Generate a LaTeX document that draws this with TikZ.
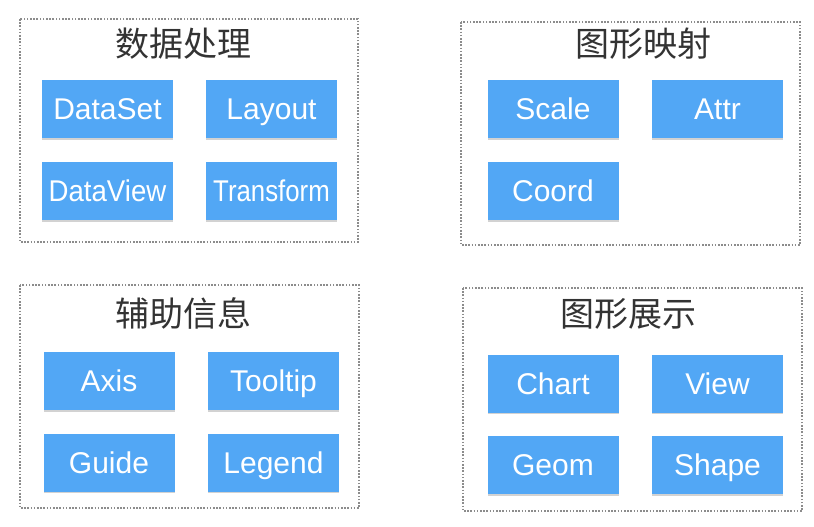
\documentclass[tikz,border=0pt]{standalone}
\usepackage{graphicx}
\usepackage{fontspec}
\setmainfont{Liberation Sans}
\newfontfamily\cjk{Noto Sans CJK SC}
\usetikzlibrary{shadows}
\definecolor{btn}{RGB}{82,167,245}
\definecolor{frame}{RGB}{140,140,140}
\begin{document}
\begin{tikzpicture}[x=1pt,y=-1pt,
  groupbox/.style={draw=frame, line width=1.6pt, dash pattern=on 1.6pt off 1.6pt},
  btnbox/.style={fill=btn, draw=none, text=white, minimum width=131pt, minimum height=58pt,
    inner sep=0pt, font=\fontsize{30}{32}\selectfont, text height=21.5pt, text depth=0pt,
    drop shadow={shadow xshift=0pt, shadow yshift=-1.5pt, opacity=0.25, fill=black!70}},
  grouptitle/.style={font=\cjk\fontsize{34}{36}\selectfont, text=black!80, inner sep=0pt}]
\useasboundingbox (0,0) rectangle (814,527);
% group 1
\draw[groupbox] (20,19) rectangle (358,242);
\node[grouptitle] (t1) at (183,44) {数据处理};
\node[btnbox] (dataset) at (107.5,109) {DataSet};
\node[btnbox] (layout) at (271.5,109) {Layout};
\node[btnbox] (dataview) at (107.5,191) {\scalebox{0.92}[1]{DataView}};
\node[btnbox] (transform) at (271.5,191) {\scalebox{0.86}[1]{Transform}};
% group 2
\draw[groupbox] (461,22) rectangle (800,245);
\node[grouptitle] (t2) at (643,44) {图形映射};
\node[btnbox] (scale) at (553,109) {Scale};
\node[btnbox] (attr) at (717.5,109) {Attr};
\node[btnbox] (coord) at (553,191) {Coord};
% group 3
\draw[groupbox] (20,285) rectangle (359,508);
\node[grouptitle] (t3) at (183,313) {辅助信息};
\node[btnbox] (axis) at (109,381) {Axis};
\node[btnbox] (tooltip) at (273.5,381) {Tooltip};
\node[btnbox] (guide) at (109,462.5) {Guide};
\node[btnbox] (legend) at (273.5,462.5) {Legend};
% group 4
\draw[groupbox] (463,288) rectangle (802,511);
\node[grouptitle] (t4) at (628,314) {图形展示};
\node[btnbox] (chart) at (553,383.5) {Chart};
\node[btnbox] (view) at (717.5,383.5) {View};
\node[btnbox] (geom) at (553,465) {Geom};
\node[btnbox] (shape) at (717.5,465) {Shape};
\end{tikzpicture}
\end{document}
